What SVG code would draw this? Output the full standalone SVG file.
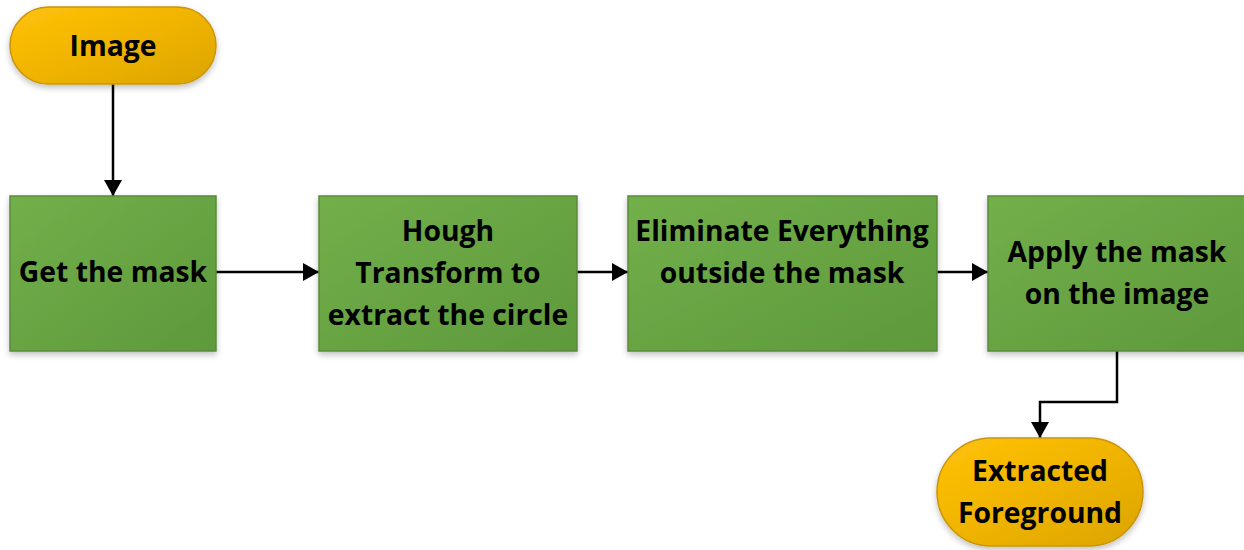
<svg xmlns="http://www.w3.org/2000/svg" width="1244" height="550" viewBox="0 0 1244 550">
  <style>
    .proc { fill: url(#gGreen); stroke: #5a8a3a; stroke-width: 1.5; filter: url(#shadow); }
    .term { fill: url(#gGold); stroke: #c8960a; stroke-width: 1.5; filter: url(#shadow); }
    .lbl { font-family: "Open Sans", Lato, "Liberation Sans", sans-serif; font-weight: bold; font-size: 28.3px; fill: #000; text-anchor: middle; }
    .wire { fill: none; stroke: #000; stroke-width: 2.5; marker-end: url(#arrow); }
  </style>
  <defs>
    <linearGradient id="gGreen" x1="0" y1="0" x2="1" y2="1">
      <stop offset="0" stop-color="#72b04a"/>
      <stop offset="0.5" stop-color="#68a443"/>
      <stop offset="1" stop-color="#5e993c"/>
    </linearGradient>
    <linearGradient id="gGold" x1="0" y1="0" x2="1" y2="1">
      <stop offset="0" stop-color="#ffc20a"/>
      <stop offset="0.5" stop-color="#f0b400"/>
      <stop offset="1" stop-color="#dba500"/>
    </linearGradient>
    <filter id="shadow" x="-10%" y="-10%" width="120%" height="130%">
      <feGaussianBlur in="SourceAlpha" stdDeviation="3"/>
      <feOffset dy="3" result="b"/>
      <feComponentTransfer><feFuncA type="linear" slope="0.25"/></feComponentTransfer>
      <feMerge><feMergeNode/><feMergeNode in="SourceGraphic"/></feMerge>
    </filter>
    <!-- filled triangular arrowhead, sized in user units -->
    <marker id="arrow" viewBox="0 0 16 18" refX="16" refY="9" markerWidth="16" markerHeight="18" markerUnits="userSpaceOnUse" orient="auto">
      <path d="M0,0 L16,9 L0,18 z" fill="#000"/>
    </marker>
  </defs>

  <g id="connectors">
    <path class="wire" d="M113,84 V196"/>
    <path class="wire" d="M216,272 H319"/>
    <path class="wire" d="M577,272 H628"/>
    <path class="wire" d="M937,272 H988"/>
    <path class="wire" d="M1117,351 V402 H1040 V438"/>
  </g>

  <g id="image">
    <rect class="term" x="10" y="7" width="206" height="77" rx="38.5"/>
    <text class="lbl" x="113" y="56">Image</text>
  </g>

  <g id="get-mask">
    <rect class="proc" x="10" y="196" width="206" height="155"/>
    <text class="lbl" x="113" y="282">Get the mask</text>
  </g>

  <g id="hough">
    <rect class="proc" x="319" y="196" width="258" height="155"/>
    <text class="lbl" x="448" y="241">Hough</text>
    <text class="lbl" x="448" y="283">Transform to</text>
    <text class="lbl" x="448" y="325">extract the circle</text>
  </g>

  <g id="eliminate">
    <rect class="proc" x="628" y="196" width="309" height="155"/>
    <text class="lbl" x="782" y="241">Eliminate Everything</text>
    <text class="lbl" x="782" y="283">outside the mask</text>
  </g>

  <g id="apply">
    <rect class="proc" x="988" y="196" width="260" height="155"/>
    <text class="lbl" x="1117" y="262">Apply the mask</text>
    <text class="lbl" x="1117" y="304">on the image</text>
  </g>

  <g id="foreground">
    <rect class="term" x="937" y="438" width="206" height="108" rx="54"/>
    <text class="lbl" x="1040" y="481">Extracted</text>
    <text class="lbl" x="1040" y="523">Foreground</text>
  </g>
</svg>
